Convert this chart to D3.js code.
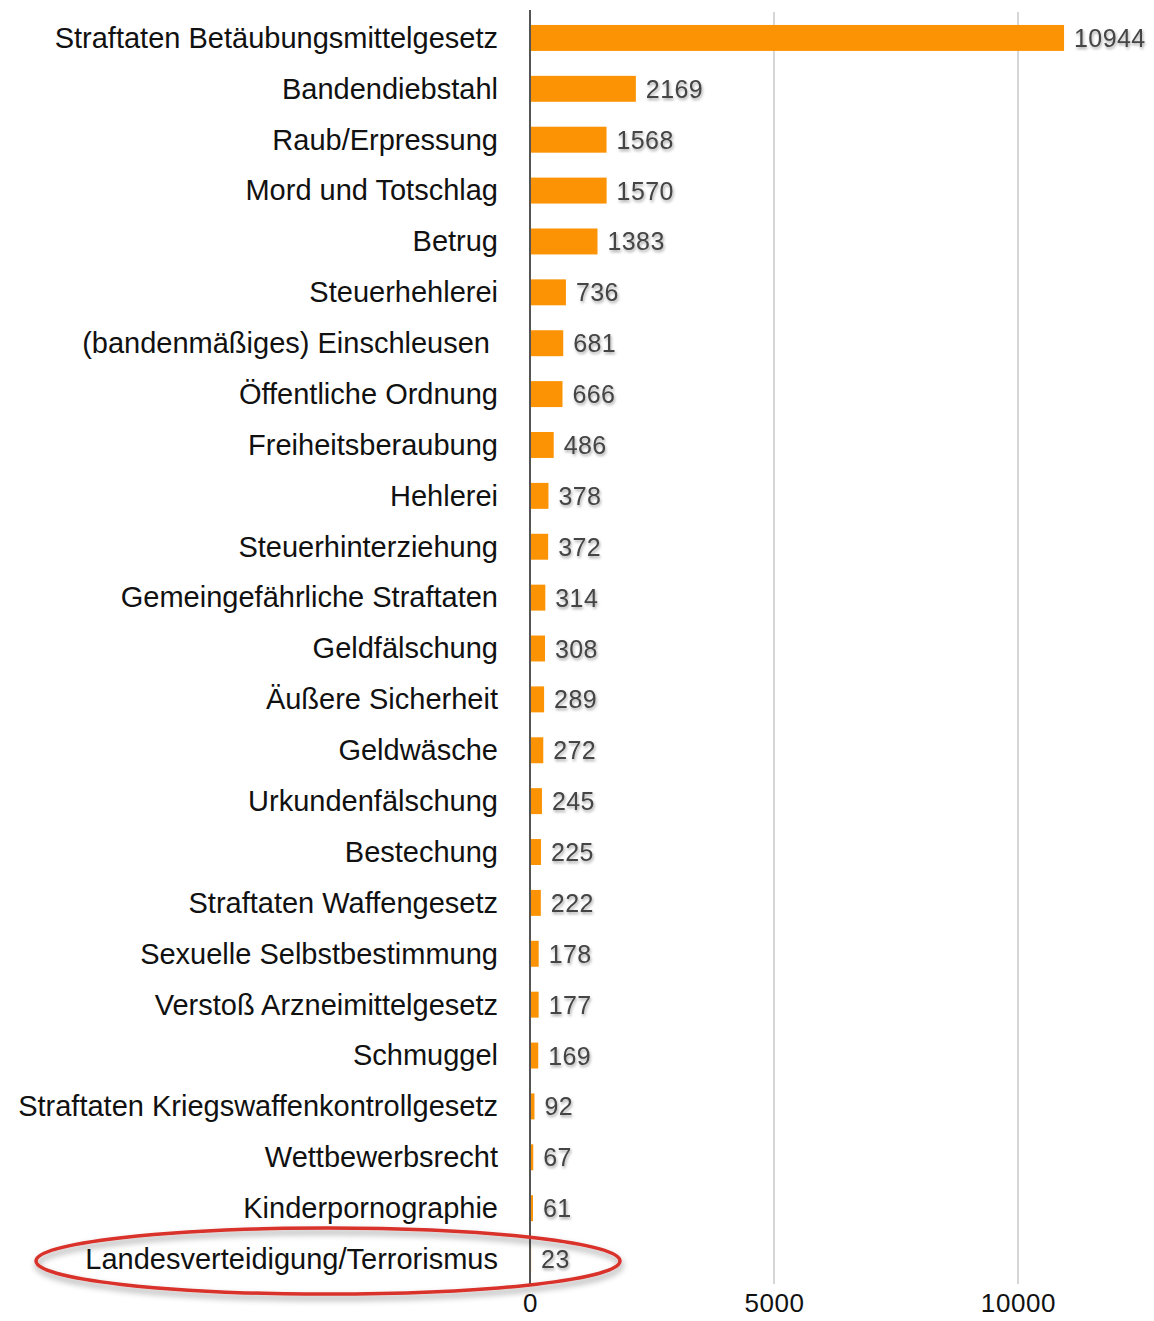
<!DOCTYPE html>
<html><head><meta charset="utf-8">
<script src="https://cdn.jsdelivr.net/npm/d3@7"></script>
<style>
html,body{margin:0;padding:0;background:#fff;}
svg{display:block;}
</style></head>
<body>
<script>
const categories = [
  "Straftaten Betäubungsmittelgesetz","Bandendiebstahl","Raub/Erpressung","Mord und Totschlag","Betrug",
  "Steuerhehlerei","(bandenmäßiges) Einschleusen","Öffentliche Ordnung","Freiheitsberaubung","Hehlerei",
  "Steuerhinterziehung","Gemeingefährliche Straftaten","Geldfälschung","Äußere Sicherheit","Geldwäsche",
  "Urkundenfälschung","Bestechung","Straftaten Waffengesetz","Sexuelle Selbstbestimmung","Verstoß Arzneimittelgesetz",
  "Schmuggel","Straftaten Kriegswaffenkontrollgesetz","Wettbewerbsrecht","Kinderpornographie","Landesverteidigung/Terrorismus"
];
const values = [10944,2169,1568,1570,1383,736,681,666,486,378,372,314,308,289,272,245,225,222,178,177,169,92,67,61,23];
const tickValues = [0,5000,10000];
const highlighted = ["Landesverteidigung/Terrorismus"];

const W = 1154, H = 1321;
const svg = d3.select("body").append("svg").attr("width", W).attr("height", H);

const defs = svg.append("defs");
const f = defs.append("filter").attr("id","tshadow").attr("x","-20%").attr("y","-40%").attr("width","140%").attr("height","180%");
f.append("feDropShadow").attr("dx",1).attr("dy",2).attr("stdDeviation",1.5).attr("flood-color","#000").attr("flood-opacity",0.35);
const f2 = defs.append("filter").attr("id","eshadow").attr("x","-10%").attr("y","-40%").attr("width","120%").attr("height","200%");
f2.append("feDropShadow").attr("dx",1).attr("dy",4).attr("stdDeviation",3).attr("flood-color","#000").attr("flood-opacity",0.4);

const x = d3.scaleLinear().domain([0,10000]).range([530,1018]);
const y = d3.scaleBand().domain(categories).range([12.5, 1284.5]).paddingInner(0.49).paddingOuter(0.245);

const font = "'Liberation Sans', Arial, Helvetica, sans-serif";

// gridlines
svg.append("g").selectAll("line").data(tickValues.filter(d=>d>0)).join("line")
  .attr("x1",d=>x(d)).attr("x2",d=>x(d)).attr("y1",12).attr("y2",1284)
  .attr("stroke","#c8c8c8").attr("stroke-width",1.5);

// bars
svg.append("g").selectAll("rect").data(values).join("rect")
  .attr("x", x(0)).attr("y",(d,i)=>y(categories[i]))
  .attr("width", d=>x(d)-x(0)).attr("height", y.bandwidth())
  .attr("fill","#fb9304");

// axis line
svg.append("line").attr("x1",x(0)).attr("x2",x(0)).attr("y1",10).attr("y2",1284)
  .attr("stroke","#555").attr("stroke-width",2);

// x axis tick labels
const xAxis = d3.axisBottom(x).tickValues(tickValues).tickSize(0).tickPadding(0).tickFormat(d3.format("d"));
const gx = svg.append("g").attr("transform","translate(0,1303)").call(xAxis);
gx.select(".domain").remove();
gx.selectAll("text").attr("font-family",font).attr("font-size",26).attr("letter-spacing",0.6).attr("fill","#111").attr("dy","0.35em");

// category labels
const gy = svg.append("g").attr("transform","translate(498,0)")
  .call(d3.axisLeft(y).tickSize(0).tickPadding(0));
gy.select(".domain").remove();
gy.selectAll("text").attr("font-family",font).attr("font-size",29).attr("fill","#111")
  .attr("dy","0.34em")
  .attr("dx", d=> d.startsWith("(bandenm") ? -8 : 0);

// value labels
svg.append("g").selectAll("text").data(values).join("text")
  .attr("x", d=>x(d)+10).attr("y",(d,i)=>y(categories[i])+y.bandwidth()/2)
  .attr("dy","0.36em")
  .attr("font-family",font).attr("font-size",25).attr("letter-spacing",0.4).attr("fill","#444")
  .attr("filter","url(#tshadow)")
  .text(d=>d);

// highlight ellipse
highlighted.forEach(c=>{
  const cy = y(c)+y.bandwidth()/2 + 2;
  svg.append("ellipse").attr("cx",328).attr("cy",cy).attr("rx",292).attr("ry",33)
    .attr("fill","none").attr("stroke","#d8302a").attr("stroke-width",3.5)
    .attr("filter","url(#eshadow)");
});
</script>
</body></html>
